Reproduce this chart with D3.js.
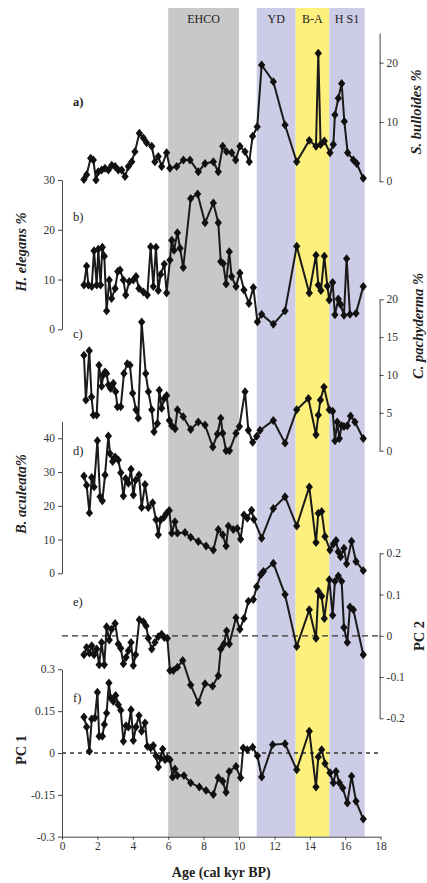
<!DOCTYPE html>
<html>
<head>
<meta charset="utf-8">
<script src="https://cdn.jsdelivr.net/npm/d3@7"></script>
<style>
body { margin: 0; background: #fff; }
text { font-family: "Liberation Serif", "DejaVu Serif", serif; }
</style>
</head>
<body>
<svg id="chart" width="427" height="883"></svg>
<script>
// climate intervals
var bandNames = ["EHCO", "YD", "B-A", "H S1"];
var bandStart = [6.0, 11.0, 13.2, 15.1];
var bandEnd = [10.0, 13.2, 15.1, 17.1];
var bandColors = ["#c8c8c8", "#cccce6", "#fdf07c", "#cccce6"];

var ageTicks = [0, 2, 4, 6, 8, 10, 12, 14, 16, 18];

// a) S. bulloides %
var ageA = [1.24,1.39,1.62,1.77,1.92,2.05,2.24,2.43,2.62,2.81,3.0,3.18,3.37,3.56,3.75,3.94,4.12,4.37,4.6,4.78,5.07,5.25,5.44,5.63,5.91,6.1,6.48,6.86,7.23,7.7,8.08,8.55,8.83,9.08,9.3,9.59,9.81,10.05,10.34,10.58,10.77,11.03,11.28,11.94,12.6,13.26,13.97,14.35,14.48,14.61,14.82,15.14,15.33,15.42,15.61,15.8,15.95,16.14,16.46,16.65,17.02];
var bulloides = [0.3,1.1,3.9,3.6,0.2,1.6,1.9,2.2,1.9,2.7,2.5,1.9,1.9,0.8,2.5,3.3,5.0,8.1,7.3,6.5,5.9,3.3,4.2,2.5,4.8,2.2,2.5,3.6,3.6,1.6,3.0,3.3,1.6,5.9,5.0,4.8,3.6,5.9,5.0,3.3,7.6,9.2,19.6,16.8,9.5,3.3,6.9,5.9,21.6,6.2,6.8,4.8,6.2,11.2,14.0,16.5,10.1,4.8,3.6,3.0,0.5];

// b) H. elegans %
var ageB = [1.24,1.39,1.49,1.68,1.81,1.96,2.05,2.18,2.28,2.39,2.52,2.67,2.8,3.0,3.15,3.28,3.47,3.6,3.8,4.03,4.18,4.35,4.6,4.82,5.01,5.16,5.31,5.44,5.57,5.78,5.91,6.1,6.2,6.33,6.52,6.67,6.85,7.27,7.66,8.08,8.55,8.83,8.97,9.11,9.27,9.45,9.58,9.83,10.05,10.28,10.56,10.81,11.04,11.28,11.94,12.6,13.26,13.97,14.35,14.48,14.63,14.82,14.99,15.1,15.29,15.42,15.61,15.74,15.93,16.08,16.27,16.61,17.02];
var elegans = [8.9,12.7,8.9,8.6,15.8,8.9,16.1,8.9,16.5,14.7,3.7,9.9,6.2,8.2,11.6,11.9,9.9,6.9,9.6,9.9,10.6,8.2,7.5,6.9,16.6,8.6,16.5,7.8,11.0,13.1,7.3,13.9,17.9,15.9,19.4,16.3,12.4,26.3,27.2,21.4,25.4,21.4,13.6,13.2,9.1,15.6,10.6,8.6,11.3,7.9,5.2,8.4,1.5,3.0,1.0,3.7,16.7,7.3,14.9,8.9,7.8,14.7,8.7,5.9,9.4,2.9,6.1,5.0,2.8,14.2,3.0,3.2,8.6];

// c) C. pachyderma %
var ageC = [1.24,1.35,1.54,1.67,1.77,1.96,2.09,2.24,2.33,2.43,2.52,2.62,2.75,2.9,3.03,3.13,3.32,3.5,3.69,3.84,3.99,4.18,4.31,4.5,4.73,4.88,5.07,5.2,5.39,5.5,5.63,5.77,5.91,6.07,6.2,6.39,6.52,6.85,7.27,7.7,8.08,8.52,8.78,8.97,9.08,9.27,9.46,9.83,10.02,10.34,10.53,10.77,11.0,11.19,11.94,12.6,13.26,13.92,14.35,14.48,14.6,14.8,15.1,15.29,15.42,15.55,15.67,15.8,15.93,16.12,16.3,16.55,17.02];
var pachyderma = [12.6,6.7,13.2,7.1,4.7,4.7,11.3,8.5,10,10.4,10.2,8.7,8.2,8.9,7.8,5.8,5.8,10.2,11.5,11.3,7.6,5.4,4.3,17.0,10.2,7.8,5.4,2.5,3.6,8.0,5.6,6.9,7.3,4.0,3.3,2.9,5.4,4.5,2.8,3.8,3.4,0.5,2.2,4.3,2.3,0,0,2.3,3.2,7.8,2.7,1.1,1.9,2.7,4.0,1.0,5.4,6.9,2.1,4.7,6.7,8.4,5.4,5.2,1.3,3.8,1.6,3.3,3.2,3.3,4.6,3.8,1.6];

// d) B. aculeata %
var ageD = [1.24,1.39,1.55,1.68,1.81,2.0,2.15,2.28,2.43,2.62,2.71,2.86,3.0,3.18,3.32,3.47,3.6,3.75,3.9,4.03,4.16,4.35,4.5,4.69,4.88,5.12,5.31,5.44,5.57,5.76,5.91,6.06,6.2,6.38,6.52,6.95,7.27,7.7,8.14,8.55,8.83,9.08,9.27,9.4,9.68,9.9,10.09,10.28,10.47,10.71,10.84,11.28,11.94,12.6,13.26,13.97,14.35,14.48,14.67,14.86,15.14,15.33,15.48,15.61,15.74,15.93,16.08,16.36,16.61,17.02];
var aculeata = [28.8,26.1,17.9,28.4,25.6,39.3,22.7,21.5,29.1,40.7,35.5,33.1,34.5,33.6,29.8,22.9,28.1,26.7,30.8,23.2,27.6,29.1,19.5,26.3,19.5,20.9,15.9,11.4,15.8,16.6,17.8,18.6,11.9,15.3,11.9,12.1,10.7,9.4,8.1,6.9,13.0,11.4,8.1,14,13,13.3,10.1,17.3,16.3,18.7,16,10.4,19.2,22.7,14.0,25.6,9.1,17.8,18.3,10.9,6.9,8.7,9.7,6.4,4.9,7.4,2.8,9.5,3.5,0.8];

// e) PC 2
var ageE = [1.24,1.39,1.55,1.68,1.81,1.96,2.1,2.24,2.39,2.52,2.67,2.8,3.0,3.18,3.32,3.47,3.62,3.75,3.9,4.03,4.16,4.37,4.6,4.75,4.88,5.07,5.25,5.44,5.63,5.78,5.95,6.1,6.29,6.52,6.82,7.27,7.7,8.08,8.51,8.83,8.97,9.15,9.3,9.45,9.83,10.05,10.28,10.53,10.81,11.0,11.23,11.38,11.94,12.6,13.26,13.97,14.35,14.48,14.67,14.82,15.1,15.29,15.42,15.61,15.8,15.93,16.12,16.27,16.46,17.02];
var pc2 = [-0.046,-0.028,-0.042,-0.024,-0.046,-0.032,-0.07,-0.016,-0.07,0.022,-0.01,0.016,0.03,-0.02,-0.03,-0.068,-0.052,-0.036,-0.016,-0.072,-0.046,0.039,0.034,0.024,-0.006,-0.032,-0.016,-0.002,0.004,-0.004,-0.006,-0.084,-0.084,-0.076,-0.06,-0.119,-0.162,-0.116,-0.122,-0.097,-0.032,-0.02,0.012,-0.02,0.044,0.016,0.042,0.084,0.088,0.119,0.148,0.156,0.176,0.100,-0.026,0.063,-0.006,0.108,0.096,0.042,0.136,0.05,0.132,0.145,0.132,0.02,-0.016,0.07,0.063,-0.046];

// f) PC 1
var ageF = [1.24,1.39,1.55,1.68,1.86,2.0,2.1,2.28,2.39,2.52,2.65,2.75,2.9,3.03,3.18,3.32,3.47,3.62,3.75,3.9,4.03,4.18,4.35,4.5,4.69,4.82,5.01,5.16,5.31,5.44,5.57,5.69,5.82,5.95,6.1,6.25,6.38,6.52,6.89,7.27,7.76,8.14,8.55,8.83,9.08,9.27,9.45,9.83,10.09,10.24,10.47,10.77,11.04,11.28,11.9,12.6,13.26,13.97,14.35,14.48,14.67,14.86,15.14,15.33,15.48,15.67,15.86,16.12,16.36,16.61,17.02];
var pc1 = [0.129,0.093,0.006,0.122,0.126,0.218,0.06,0.06,0.102,0.143,0.251,0.197,0.185,0.206,0.173,0.153,0.042,0.098,0.093,0.155,0.045,0.093,0.134,0.078,0.108,0.024,0.018,0.027,-0.01,-0.05,-0.018,0.014,-0.024,-0.018,-0.024,-0.086,-0.057,-0.081,-0.081,-0.107,-0.122,-0.134,-0.149,-0.089,-0.101,-0.141,-0.066,-0.048,-0.089,0.018,0.012,0.021,-0.01,-0.086,0.03,0.033,-0.06,0.078,-0.122,-0.014,0.012,-0.038,-0.071,-0.107,-0.066,-0.107,-0.125,-0.179,-0.083,-0.173,-0.237];

var svg = d3.select("#chart");
var x = d3.scaleLinear().domain([0, 18]).range([62, 380.6]);
var bandTop = 8, bandBottom = 836.7;

// shaded intervals and their names
bandNames.forEach(function (name, i) {
    svg.append("rect")
        .attr("x", x(bandStart[i]))
        .attr("y", bandTop)
        .attr("width", x(bandEnd[i]) - x(bandStart[i]))
        .attr("height", bandBottom - bandTop)
        .attr("fill", bandColors[i]);
    svg.append("text")
        .attr("x", (x(bandStart[i]) + x(bandEnd[i])) / 2)
        .attr("y", 23)
        .attr("text-anchor", "middle")
        .attr("font-size", 12)
        .attr("fill", "#222")
        .text(name);
});

// panel setup: y range in pixels, side of the axis
var panels = [
    { ages: ageA, vals: bulloides, domain: [0, 25], range: [181.3, 33], ticks: [0, 10, 20], side: "right",
      letter: "a)", ly: 106, bold: true, label: "S. bulloides %", italic: true, labX: 418, labY: 112 },
    { ages: ageB, vals: elegans, domain: [0, 30], range: [329.3, 180], ticks: [0, 10, 20, 30], side: "left",
      letter: "b)", ly: 221, label: "H. elegans %", italic: true, labX: 23, labY: 252 },
    { ages: ageC, vals: pachyderma, domain: [0, 20], range: [450.7, 299.3], ticks: [0, 5, 10, 15, 20], side: "right",
      letter: "c)", ly: 338, label: "C. pachyderma %", italic: true, labX: 420, labY: 326 },
    { ages: ageD, vals: aculeata, domain: [0, 45], range: [573.3, 421.4], ticks: [0, 10, 20, 30, 40], side: "left",
      letter: "d)", ly: 455, label: "B. aculeata%", italic: true, labX: 23, labY: 494 },
    { ages: ageE, vals: pc2, domain: [-0.2, 0.2], range: [718.3, 553.3], ticks: [-0.2, -0.1, 0, 0.1, 0.2], side: "right",
      letter: "e)", ly: 606, label: "PC 2", italic: false, labX: 421, labY: 636, zero: "6,4" },
    { ages: ageF, vals: pc1, domain: [-0.3, 0.3], range: [836.7, 669.3], ticks: [-0.3, -0.15, 0, 0.15, 0.3], side: "left",
      letter: "f)", ly: 702, label: "PC 1", italic: false, labX: 23, labY: 750, zero: "4,4" }
];

panels.forEach(function (p) {
    let y = d3.scaleLinear().domain(p.domain).range(p.range);
    let g = svg.append("g");

    if (p.zero) {
        g.append("line")
            .attr("x1", x(0)).attr("x2", x(18))
            .attr("y1", y(0)).attr("y2", y(0))
            .attr("stroke", "#333")
            .attr("stroke-width", 1.3)
            .attr("stroke-dasharray", p.zero);
    }

    let axis = (p.side == "left" ? d3.axisLeft(y) : d3.axisRight(y))
        .tickValues(p.ticks)
        .tickSize(4)
        .tickSizeOuter(0)
        .tickPadding(3)
        .tickFormat(function (d) { return String(+d.toFixed(2)); });
    let ax = svg.append("g")
        .attr("transform", "translate(" + (p.side == "left" ? x(0) : x(18) - 1) + ",0)")
        .call(axis);
    ax.selectAll("path, line").attr("stroke", "#444").attr("stroke-width", 1);
    ax.selectAll("text").attr("font-size", 11.5).attr("fill", "#333")
        .style("font-family", "'Liberation Serif', serif");

    let pts = p.ages.map(function (a, i) { return [a, p.vals[i]]; });
    let line = d3.line().x(function (d) { return x(d[0]); }).y(function (d) { return y(d[1]); });
    g.append("path")
        .datum(pts)
        .attr("d", line)
        .attr("fill", "none")
        .attr("stroke", "#1a1a1a")
        .attr("stroke-width", 2)
        .attr("stroke-linejoin", "round");

    let sym = d3.symbol().type(d3.symbolDiamond2).size(42);
    g.selectAll(".mk")
        .data(pts)
        .enter().append("path")
        .attr("d", sym)
        .attr("transform", function (d) { return "translate(" + x(d[0]) + "," + y(d[1]) + ") scale(0.9,1.1)"; })
        .attr("fill", "#111");

    svg.append("text")
        .attr("x", 73)
        .attr("y", p.ly)
        .attr("font-size", 12.5)
        .attr("font-weight", p.bold ? "bold" : "normal")
        .attr("fill", "#222")
        .text(p.letter);

    svg.append("text")
        .attr("transform", "translate(" + p.labX + "," + p.labY + ") rotate(-90)")
        .attr("text-anchor", "middle")
        .attr("dominant-baseline", "middle")
        .attr("font-size", 14.5)
        .attr("font-weight", "bold")
        .attr("font-style", p.italic ? "italic" : "normal")
        .attr("fill", "#222")
        .text(p.label);
});

// bottom age axis
var xAxis = d3.axisBottom(x).tickValues(ageTicks).tickSize(3).tickSizeOuter(0).tickPadding(2);
var xg = svg.append("g").attr("transform", "translate(0," + bandBottom + ")").call(xAxis);
xg.selectAll("path, line").attr("stroke", "#444");
xg.selectAll("text").attr("font-size", 11.5).attr("fill", "#333")
    .style("font-family", "'Liberation Serif', serif");

svg.append("text")
    .attr("x", (x(0) + x(18)) / 2)
    .attr("y", 877)
    .attr("text-anchor", "middle")
    .attr("font-size", 14)
    .attr("font-weight", "bold")
    .attr("fill", "#222")
    .text("Age (cal kyr BP)");
</script>
</body>
</html>
